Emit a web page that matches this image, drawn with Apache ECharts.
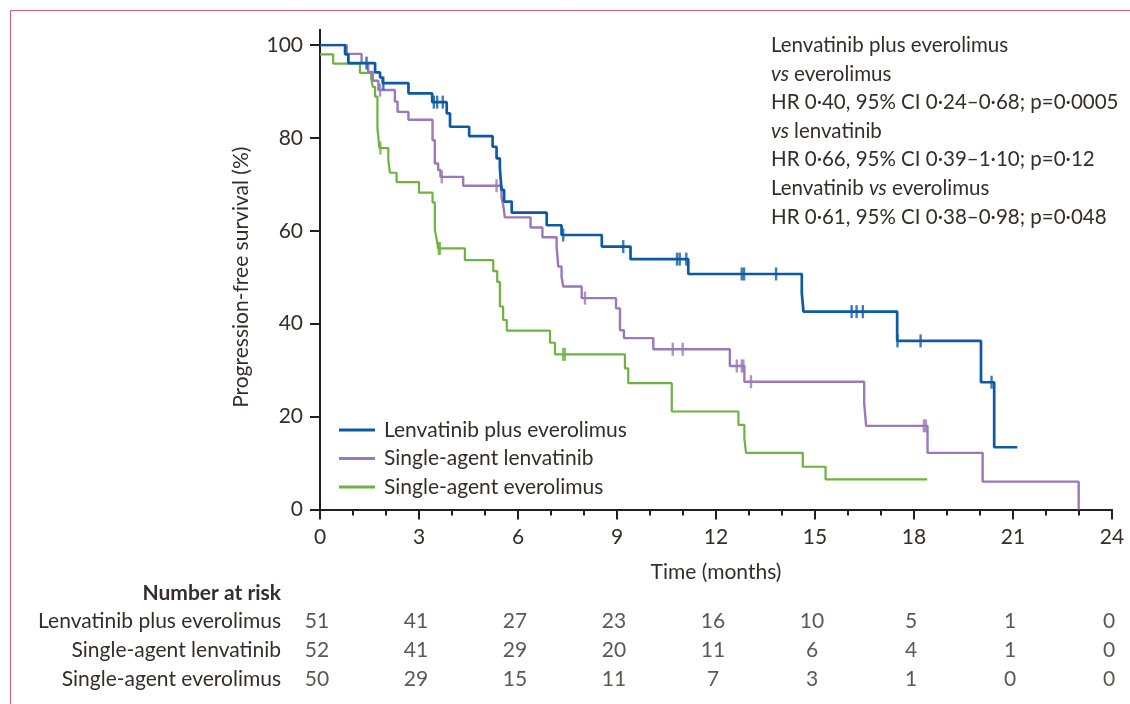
<!DOCTYPE html>
<html>
<head>
<meta charset="utf-8">
<script src="https://cdn.jsdelivr.net/npm/echarts@6/dist/echarts.min.js"></script>
<style>html,body{margin:0;padding:0;background:#fff}#c{width:1130px;height:704px}</style>
</head>
<body>
<div id="c"></div>
<script>
// ---- data ----
const seriesNames = ['Lenvatinib plus everolimus', 'Single-agent lenvatinib', 'Single-agent everolimus'];
const colors = ['#0c5aa6', '#9a78ba', '#6cb33f'];

const blueT = [0, 0.76, 0.86, 1.67, 1.82, 1.9, 2.68, 3.4, 3.84, 3.94, 4.52, 5.23, 5.35, 5.45, 5.5, 5.58, 5.81, 6.87, 7.32, 8.54, 9.41, 11.16, 14.6, 14.65, 17.49, 20.03, 20.43, 21.13];
const blueS = [100, 98.0, 96.1, 94.1, 93.0, 91.8, 89.6, 87.7, 85.3, 82.4, 80.4, 78.1, 75.6, 73.6, 68.8, 66.3, 63.9, 61.2, 59.1, 56.6, 53.9, 50.7, 46.6, 42.6, 36.3, 27.4, 13.4, 13.4];
const blueCens = [1.41, 1.92, 3.45, 3.55, 3.72, 7.37, 9.19, 10.82, 10.9, 11.1, 12.78, 12.85, 13.82, 16.11, 16.26, 16.45, 17.5, 18.2, 20.35];

const purpleT = [0, 0.81, 1.26, 1.46, 1.6, 1.77, 2.27, 2.35, 2.68, 3.41, 3.48, 3.58, 3.65, 4.34, 5.5, 5.56, 5.6, 6.38, 6.74, 7.17, 7.22, 7.32, 7.37, 7.93, 8.97, 9.09, 9.21, 10.1, 12.42, 12.86, 16.49, 16.55, 18.41, 20.08, 22.99];
const purpleS = [100, 98.1, 96.1, 94.2, 92.3, 90.3, 87.8, 85.6, 83.9, 79.5, 74.5, 73.1, 71.6, 69.7, 67.3, 65.2, 62.9, 60.7, 58.6, 56.6, 52.3, 50.1, 48.0, 45.5, 43.3, 38.6, 36.9, 34.5, 30.9, 27.5, 22.9, 18.0, 12.2, 6.0, 0];
const purpleCens = [1.82, 3.69, 5.35, 8.03, 10.69, 10.99, 12.63, 12.78, 12.83, 13.06, 18.3, 18.36];

const greenT = [0, 0.4, 1.21, 1.55, 1.6, 1.67, 1.74, 1.8, 2.07, 2.12, 2.32, 3.0, 3.41, 3.48, 3.54, 3.58, 4.39, 5.25, 5.37, 5.45, 5.55, 5.66, 6.97, 7.12, 9.24, 9.34, 10.66, 12.68, 12.86, 12.91, 14.63, 15.32, 18.4];
const greenS = [98, 96, 94, 92.8, 91.0, 88.9, 82.1, 77.8, 75.2, 72.5, 70.5, 68.2, 66.1, 60.2, 58.0, 56.2, 53.7, 51.3, 49.0, 43.7, 40.8, 38.5, 35.9, 33.4, 30.4, 27.2, 21.1, 18.2, 15.2, 12.2, 9.2, 6.5, 6.5];
const greenCens = [1.83, 3.6, 3.63, 7.37, 7.42];

const riskTimes = [0, 3, 6, 9, 12, 15, 18, 21, 24];
const riskBlue = [51, 41, 27, 23, 16, 10, 5, 1, 0];
const riskPurple = [52, 41, 29, 20, 11, 6, 4, 1, 0];
const riskGreen = [50, 29, 15, 11, 7, 3, 1, 0, 0];

const annotationLines = [
  'Lenvatinib plus everolimus',
  '{it|vs} everolimus',
  'HR 0·40, 95% CI 0·24–0·68; p=0·0005',
  '{it|vs} lenvatinib',
  'HR 0·66, 95% CI 0·39–1·10; p=0·12',
  'Lenvatinib {it|vs} everolimus',
  'HR 0·61, 95% CI 0·38–0·98; p=0·048'
];

// ---- build ----
const FONT = 'Lato, "Open Sans", sans-serif';
const TXT = '#352c2c';
const AX = '#231f20';

function pairs(T, S) { return T.map((t, i) => [t, S[i]]); }
function survAt(T, S, t) { let v = S[0]; for (let i = 0; i < T.length; i++) if (T[i] <= t) v = S[i]; return v; }

const curves = [[blueT, blueS, blueCens, 2.7], [purpleT, purpleS, purpleCens, 2.4], [greenT, greenS, greenCens, 2.2]];
const series = [];
curves.forEach((c, k) => {
  series.push({
    name: seriesNames[k], type: 'line', step: 'end', data: pairs(c[0], c[1]),
    showSymbol: false, symbol: 'none', lineStyle: { color: colors[k], width: c[3] },
    itemStyle: { color: colors[k] }, z: 3 - k + 2, silent: true
  });
});
curves.forEach((c, k) => {
  series.push({
    name: 'cens' + k, type: 'scatter', data: c[2].map(t => [t, survAt(c[0], c[1], t)]),
    symbol: 'rect', symbolSize: [2.4, 13], itemStyle: { color: colors[k] }, z: 6, silent: true
  });
});
const riskRows = [riskBlue, riskPurple, riskGreen];
riskRows.forEach((row, r) => {
  series.push({
    name: 'risk' + r, type: 'scatter', xAxisIndex: 1, yAxisIndex: 1,
    data: riskTimes.map((t, i) => [t, r, row[i]]),
    symbolSize: 1, itemStyle: { color: 'rgba(0,0,0,0)' }, silent: true,
    label: { show: true, position: 'inside', offset: [-3, 0], formatter: p => String(p.value[2]), fontSize: 21, fontFamily: FONT, color: TXT }
  });
});

const chart = echarts.init(document.getElementById('c'), null, { renderer: 'canvas' });
chart.setOption({
  animation: false,
  backgroundColor: '#fff',
  textStyle: { fontFamily: FONT, color: TXT },
  grid: [
    { left: 320, right: 18, top: 45, bottom: 194.5 },
    { left: 320, right: 18, top: 607, height: 87 }
  ],
  legend: {
    data: seriesNames, orient: 'vertical', left: 334, top: 414.5,
    icon: 'rect', itemWidth: 36, itemHeight: 3, itemGap: 7.5,
    textStyle: { fontSize: 21, fontFamily: FONT, color: TXT, padding: [0, 0, 0, 4] },
    selectedMode: false
  },
  xAxis: [
    {
      type: 'value', gridIndex: 0, min: 0, max: 24, interval: 3,
      axisLine: { show: true, onZero: false, lineStyle: { color: AX, width: 2 } },
      axisTick: { show: true, length: 10, lineStyle: { color: AX, width: 2 } },
      minorTick: { show: true, splitNumber: 3, length: 6, lineStyle: { color: AX, width: 2 } },
      splitLine: { show: false }, minorSplitLine: { show: false },
      axisLabel: { fontSize: 21, fontFamily: FONT, color: TXT, margin: 17 },
      name: 'Time (months)', nameLocation: 'middle', nameGap: 52,
      nameTextStyle: { fontSize: 21, fontFamily: FONT, color: TXT }
    },
    { type: 'value', gridIndex: 1, min: 0, max: 24, show: false }
  ],
  yAxis: [
    {
      type: 'value', gridIndex: 0, min: 0, max: 100, interval: 20,
      axisLine: { show: true, onZero: false, lineStyle: { color: AX, width: 2 } },
      axisTick: { show: true, length: 10, lineStyle: { color: AX, width: 2 } },
      splitLine: { show: false },
      axisLabel: { fontSize: 21, fontFamily: FONT, color: TXT, margin: 17 },
      name: 'Progression-free survival (%)', nameLocation: 'middle', nameRotate: 90, nameGap: 68,
      nameTextStyle: { fontSize: 21, fontFamily: FONT, color: TXT }
    },
    {
      type: 'category', gridIndex: 1, data: seriesNames, inverse: true,
      axisLine: { show: false }, axisTick: { show: false }, splitLine: { show: false },
      axisLabel: { fontSize: 21, fontFamily: FONT, color: TXT, margin: 39 }
    }
  ],
  series: series
});

const p100 = chart.convertToPixel({ gridIndex: 0 }, [0, 100]);
chart.setOption({
  graphic: [
    { type: 'line', shape: { x1: p100[0], y1: p100[1] - 16, x2: p100[0], y2: p100[1] }, style: { stroke: AX, lineWidth: 2 }, silent: true },
    { type: 'line', shape: { x1: 10.5, y1: 10.5, x2: 1130, y2: 10.5 }, style: { stroke: '#cf5b7a', lineWidth: 1 }, silent: true },
    { type: 'line', shape: { x1: 10.5, y1: 10.5, x2: 10.5, y2: 704 }, style: { stroke: '#cf5b7a', lineWidth: 1 }, silent: true },
    {
      type: 'text', x: 771, y: 31, silent: true,
      style: {
        text: annotationLines.join('\n'), fill: TXT,
        fontSize: 20.5, fontFamily: FONT, lineHeight: 28.6,
        rich: { it: { fontStyle: 'italic', fontSize: 20.5, fontFamily: FONT, fill: TXT, lineHeight: 28.6 } }
      }
    },
    {
      type: 'text', x: 281, y: 593, silent: true,
      style: { text: 'Number at risk', fill: TXT, fontSize: 21, fontFamily: FONT, fontWeight: 'bold', align: 'right', verticalAlign: 'middle', textAlign: 'right', textVerticalAlign: 'middle' }
    }
  ]
});
</script>
</body>
</html>
